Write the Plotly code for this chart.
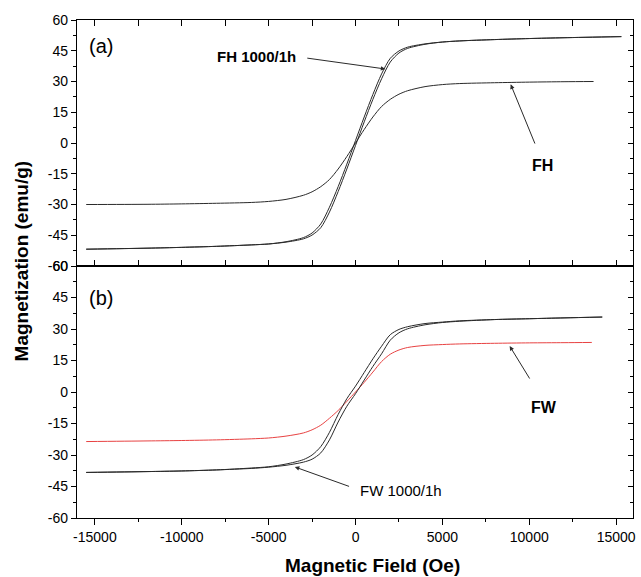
import plotly.graph_objects as go

# ---- data: magnetization (emu/g) vs applied field (Oe) ----
H_FH1000 = [-15500, -12000, -10000, -8000, -6000, -5000, -4000, -3000, -2500, -2000, -1500, -1000, -500,
            0, 500, 1000, 1500, 2000, 2500, 3000, 4000, 5000, 6000, 8000, 10000, 12000, 15300]
M_FH1000_down = [-51.8, -51.3, -50.9, -50.4, -49.7, -49.25, -48.15, -46.15, -43.9, -39.5, -31.3, -21.3, -10.3,
                 1.2, 12.7, 23.7, 33.7, 41.3, 44.9, 46.75, 48.35, 49.25, 49.8, 50.45, 50.95, 51.35, 51.9]
M_FH1000_up = [-51.8, -51.3, -50.9, -50.4, -49.7, -49.25, -48.35, -46.75, -44.9, -41.3, -33.7, -23.7, -12.7,
               -1.2, 10.3, 21.3, 31.3, 39.5, 43.9, 46.15, 48.15, 49.25, 49.8, 50.45, 50.95, 51.35, 51.9]

H_FH = [-15500, -12000, -10000, -8000, -6000, -5000, -4000, -3000, -2500, -2000, -1500, -1000, -500,
        0, 500, 1000, 1500, 2000, 2500, 3000, 4000, 5000, 6000, 8000, 10000, 12000, 13700]
M_FH = [-30.0, -29.9, -29.7, -29.4, -29.0, -28.5, -27.5, -25.5, -23.8, -21.3, -17.8, -12.7, -6.6,
        0.0, 6.6, 12.7, 17.8, 21.3, 23.8, 25.5, 27.5, 28.5, 29.0, 29.4, 29.7, 29.9, 30.0]

H_FW1000 = [-15500, -12000, -10000, -8000, -6000, -5000, -4000, -3000, -2500, -2000, -1500, -1000, -500,
            0, 500, 1000, 1500, 2000, 2500, 3000, 4000, 5000, 6000, 8000, 10000, 12000, 14200]
M_FW1000_down = [-38.3, -37.9, -37.6, -37.1, -36.2, -35.6, -34.3, -32.2, -30.0, -26.0, -19.2, -10.7, -3.2,
                 2.8, 9.3, 15.8, 21.8, 27.3, 29.8, 31.1, 32.6, 33.3, 33.9, 34.5, 34.9, 35.3, 35.7]
M_FW1000_up = [-38.3, -37.9, -37.6, -37.1, -36.4, -35.8, -34.9, -33.4, -32.0, -29.0, -22.8, -14.3, -6.8,
               -0.8, 5.7, 12.2, 18.2, 24.7, 28.2, 30.1, 32.0, 33.1, 33.7, 34.5, 34.9, 35.3, 35.7]

H_FW = [-15500, -12000, -10000, -8000, -6000, -5000, -4000, -3000, -2500, -2000, -1500, -1000, -500,
        0, 500, 1000, 1500, 2000, 2500, 3000, 4000, 5000, 6000, 8000, 10000, 12000, 13600]
M_FW = [-23.6, -23.3, -23.1, -22.8, -22.3, -21.9, -21.0, -19.5, -18.0, -15.8, -12.5, -8.8, -4.5,
        0.0, 4.6, 9.5, 14.5, 18.0, 20.0, 21.2, 22.2, 22.6, 22.9, 23.2, 23.4, 23.5, 23.6]

X_TICKS = [-15000, -10000, -5000, 0, 5000, 10000, 15000]
X_TICK_TEXT = ["-15000", "-10000", "-5000", "0", "5000", "10000", "15000"]
Y_TICKS = [-60, -45, -30, -15, 0, 15, 30, 45, 60]
Y_TICK_TEXT = ["-60", "-45", "-30", "-15", "0", "15", "30", "45", "60"]

X_RANGE = [-16030, 15970]
Y_RANGE = [-60, 60]

BLACK = "#2a2a2a"
RED = "rgb(232,66,66)"
FONT = "Liberation Sans, Arial, sans-serif"

fig = go.Figure()


def curve(x, y, xa, ya, color):
    return go.Scatter(x=x, y=y, mode="lines", xaxis=xa, yaxis=ya,
                      line=dict(color=color, width=1, shape="spline", smoothing=0.8),
                      showlegend=False, hoverinfo="skip")


# top panel (a): x2 / y
fig.add_trace(curve(H_FH1000, M_FH1000_down, "x2", "y", BLACK))
fig.add_trace(curve(H_FH1000, M_FH1000_up, "x2", "y", BLACK))
fig.add_trace(curve(H_FH, M_FH, "x2", "y", BLACK))

# bottom panel (b): x / y2
fig.add_trace(curve(H_FW, M_FW, "x", "y2", RED))
fig.add_trace(curve(H_FW1000, M_FW1000_down, "x", "y2", BLACK))
fig.add_trace(curve(H_FW1000, M_FW1000_up, "x", "y2", BLACK))

# placeholder traces so the right-hand tick axes get drawn
fig.add_trace(go.Scatter(x=[], y=[], xaxis="x2", yaxis="y3", showlegend=False))
fig.add_trace(go.Scatter(x=[], y=[], xaxis="x", yaxis="y4", showlegend=False))

SPLIT = 0.506
tickfont = dict(family=FONT, size=14, color="black")

common_y = dict(range=Y_RANGE, tickvals=Y_TICKS, ticktext=Y_TICK_TEXT, showgrid=False, zeroline=False,
                showline=True, linecolor="black", linewidth=1.3, tickcolor="black")

fig.update_layout(
    width=641, height=577,
    margin=dict(l=77, r=5, t=20, b=59),
    paper_bgcolor="white", plot_bgcolor="white",
    xaxis=dict(domain=[0, 1], anchor="y2", range=X_RANGE, tickvals=X_TICKS, ticktext=X_TICK_TEXT,
               ticks="outside", ticklen=6, tickwidth=1.2, tickcolor="black",
               minor=dict(dtick=2500, tick0=0, ticks="outside", ticklen=3, tickcolor="black"),
               showline=True, mirror=True, linecolor="black", linewidth=1.3,
               showgrid=False, zeroline=False, tickfont=tickfont),
    xaxis2=dict(domain=[0, 1], anchor="y", range=X_RANGE, tickvals=X_TICKS,
                ticks="inside", ticklen=6, tickwidth=1.2, tickcolor="black",
                minor=dict(dtick=2500, tick0=0, ticks="inside", ticklen=3, tickcolor="black"),
                showline=True, mirror="allticks", linecolor="black", linewidth=1.3,
                showticklabels=False, showgrid=False, zeroline=False),
    yaxis=dict(domain=[SPLIT, 1], anchor="x2", ticks="outside", ticklen=5, tickwidth=1.2,
               minor=dict(dtick=7.5, tick0=0, ticks="outside", ticklen=3, tickcolor="black"),
               mirror=True, tickfont=tickfont, **common_y),
    yaxis2=dict(domain=[0, SPLIT], anchor="x", ticks="outside", ticklen=5, tickwidth=1.2,
                minor=dict(dtick=7.5, tick0=0, ticks="outside", ticklen=3, tickcolor="black"),
                mirror=True, tickfont=tickfont, **common_y),
    yaxis3=dict(overlaying="y", side="right", anchor="x2", ticks="inside", ticklen=5, tickwidth=1.2,
                minor=dict(dtick=7.5, tick0=0, ticks="inside", ticklen=3, tickcolor="black"),
                showticklabels=False, **common_y),
    yaxis4=dict(overlaying="y2", side="right", anchor="x", ticks="inside", ticklen=5, tickwidth=1.2,
                minor=dict(dtick=7.5, tick0=0, ticks="inside", ticklen=3, tickcolor="black"),
                showticklabels=False, **common_y),
)

annotations = [
    # panel letters
    dict(x=-15455, y=47.5, xref="x2", yref="y", text="(a)", showarrow=False,
         xanchor="left", yanchor="middle", font=dict(family=FONT, size=20, color="black")),
    dict(x=-15455, y=45.0, xref="x", yref="y2", text="(b)", showarrow=False,
         xanchor="left", yanchor="middle", font=dict(family=FONT, size=20, color="black")),
    # arrows
    dict(x=1717, y=36.1, ax=-2862, ay=41.5, xref="x2", yref="y", axref="x2", ayref="y",
         text="", showarrow=True, arrowhead=2, arrowsize=0.9, arrowwidth=1, arrowcolor=BLACK),
    dict(x=8930, y=28.6, ax=10360, ay=-1.0, xref="x2", yref="y", axref="x2", ayref="y",
         text="", showarrow=True, arrowhead=2, arrowsize=0.9, arrowwidth=1, arrowcolor=BLACK),
    dict(x=8872, y=21.9, ax=10074, ay=5.7, xref="x", yref="y2", axref="x", ayref="y2",
         text="", showarrow=True, arrowhead=2, arrowsize=0.9, arrowwidth=1, arrowcolor=BLACK),
    dict(x=-3492, y=-35.7, ax=-286, ay=-45.2, xref="x", yref="y2", axref="x", ayref="y2",
         text="", showarrow=True, arrowhead=2, arrowsize=0.9, arrowwidth=1, arrowcolor=BLACK),
    # series labels
    dict(x=-3300, y=42.0, xref="x2", yref="y", text="<b>FH 1000/1h</b>", showarrow=False,
         xanchor="right", yanchor="middle", font=dict(family=FONT, size=15, color="black")),
    dict(x=10760, y=-11.2, xref="x2", yref="y", text="<b>FH</b>", showarrow=False,
         xanchor="center", yanchor="middle", font=dict(family=FONT, size=16, color="black")),
    dict(x=10875, y=-7.6, xref="x", yref="y2", text="<b>FW</b>", showarrow=False,
         xanchor="center", yanchor="middle", font=dict(family=FONT, size=16, color="black")),
    dict(x=114, y=-47.1, xref="x", yref="y2", text="FW 1000/1h", showarrow=False,
         xanchor="left", yanchor="middle", font=dict(family=FONT, size=15, color="black")),
    # axis titles
    dict(x=-0.1, y=0.516, xref="paper", yref="paper", text="<b>Magnetization (emu/g)</b>",
         showarrow=False, textangle=-90, xanchor="center", yanchor="middle",
         font=dict(family=FONT, size=19, color="black")),
    dict(x=0.532, y=-0.096, xref="paper", yref="paper", text="<b>Magnetic Field (Oe)</b>",
         showarrow=False, xanchor="center", yanchor="middle",
         font=dict(family=FONT, size=19, color="black")),
]
fig.update_layout(annotations=annotations)

fig.write_html("out.html")
